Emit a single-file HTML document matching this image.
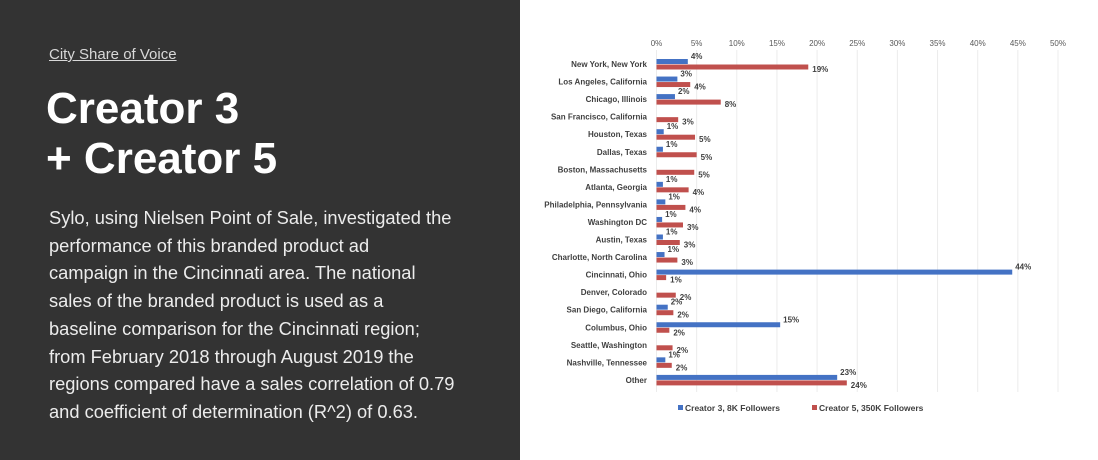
<!DOCTYPE html>
<html><head><meta charset="utf-8">
<style>
html,body{margin:0;padding:0;width:1098px;height:460px;overflow:hidden;background:#fff;font-family:"Liberation Sans",sans-serif}
#left{position:absolute;left:0;top:0;width:520px;height:460px;background:#333333}
#sub{position:absolute;left:49px;top:46px;font-size:15px;color:#d8d8d8;text-decoration:underline}
#title{position:absolute;left:46px;top:84px;font-size:44px;font-weight:bold;color:#fff;line-height:50px}
#para{position:absolute;left:49px;top:204px;width:470px;font-size:18.3px;line-height:27.7px;color:#ececec;white-space:nowrap}
svg{position:absolute;left:0;top:0}
</style></head><body>
<div id="left">
<div id="sub">City Share of Voice</div>
<div id="title">Creator 3<br>+ Creator 5</div>
<div id="para">Sylo, using Nielsen Point of Sale, investigated the<br>performance of this branded product ad<br>campaign in the Cincinnati area. The national<br>sales of the branded product is used as a<br>baseline comparison for the Cincinnati region;<br>from February 2018 through August 2019 the<br>regions compared have a sales correlation of 0.79<br>and coefficient of determination (R^2) of 0.63.</div>
</div>
<svg id="chart" width="1098" height="460"></svg>
<script>
const categories=["New York, New York","Los Angeles, California","Chicago, Illinois","San Francisco, California","Houston, Texas","Dallas, Texas","Boston, Massachusetts","Atlanta, Georgia","Philadelphia, Pennsylvania","Washington DC","Austin, Texas","Charlotte, North Carolina","Cincinnati, Ohio","Denver, Colorado","San Diego, California","Columbus, Ohio","Seattle, Washington","Nashville, Tennessee","Other"];
const creator3=[3.9,2.6,2.3,0,0.9,0.8,0,0.8,1.1,0.7,0.8,1.0,44.3,0,1.4,15.4,0,1.1,22.5];
const creator5=[18.9,4.2,8.0,2.7,4.8,5.0,4.7,4.0,3.6,3.3,2.9,2.6,1.2,2.4,2.1,1.6,2.0,1.9,23.7];
const labels3=["4%","3%","2%","","1%","1%","","1%","1%","1%","1%","1%","44%","","2%","15%","","1%","23%"];
const labels5=["19%","4%","8%","3%","5%","5%","5%","4%","4%","3%","3%","3%","1%","2%","2%","2%","2%","2%","24%"];
const ticks=[0,5,10,15,20,25,30,35,40,45,50];
const seriesNames=["Creator 3, 8K Followers","Creator 5, 350K Followers"];
const NS="http://www.w3.org/2000/svg";
const svg=document.getElementById('chart');
const x0=656.5,pxPer=8.03,yTop=64,pitch=17.55;
const x=v=>x0+v*pxPer;
const yc=i=>yTop+i*pitch;
function mk(t,a){const e=document.createElementNS(NS,t);for(const k in a)e.setAttribute(k,a[k]);svg.appendChild(e);return e;}
const font='"Liberation Sans",sans-serif';
ticks.forEach(t=>{
 const g=mk('line',{x1:x(t),x2:x(t),y1:50,y2:392,stroke:'#ececec','stroke-width':1});
 
 
 const l=mk('text',{x:x(t),y:46,'text-anchor':'middle','font-size':8,fill:'#595959','font-family':font});
 l.textContent=t+'%';
 
 
});
categories.forEach((c,i)=>{
 const t=mk('text',{x:647,y:yc(i)+3,'text-anchor':'end','font-size':8,'font-weight':'bold',fill:'#404040','font-family':font});
 t.textContent=c;
 
 
 if(creator3[i]>0){
  const b=mk('rect',{x:x0,y:yc(i)-5,width:creator3[i]*pxPer,height:5,fill:'#4472c4'});
  
  
 }
 if(labels3[i]){
  const l=mk('text',{x:x(creator3[i])+3,y:yc(i)-5,'font-size':8,'font-weight':'bold',fill:'#404040','font-family':font});
  l.textContent=labels3[i];
  
  
 }
 const r=mk('rect',{x:x0,y:yc(i)+0.5,width:creator5[i]*pxPer,height:5,fill:'#c0504d'});
 
 
 const l5=mk('text',{x:x(creator5[i])+4,y:yc(i)+8,'font-size':8,'font-weight':'bold',fill:'#404040','font-family':font});
 l5.textContent=labels5[i];
 
 
});
const legX=[678,812],legC=['#4472c4','#c0504d'];
seriesNames.forEach((n,k)=>{
 const s=mk('rect',{x:legX[k],y:405,width:5,height:5,fill:legC[k]});
 
 
 const t=mk('text',{x:legX[k]+7,y:411,'font-size':8.5,'font-weight':'bold',fill:'#404040','font-family':font});
 t.textContent=n;
 
 
});
</script>
</body></html>
